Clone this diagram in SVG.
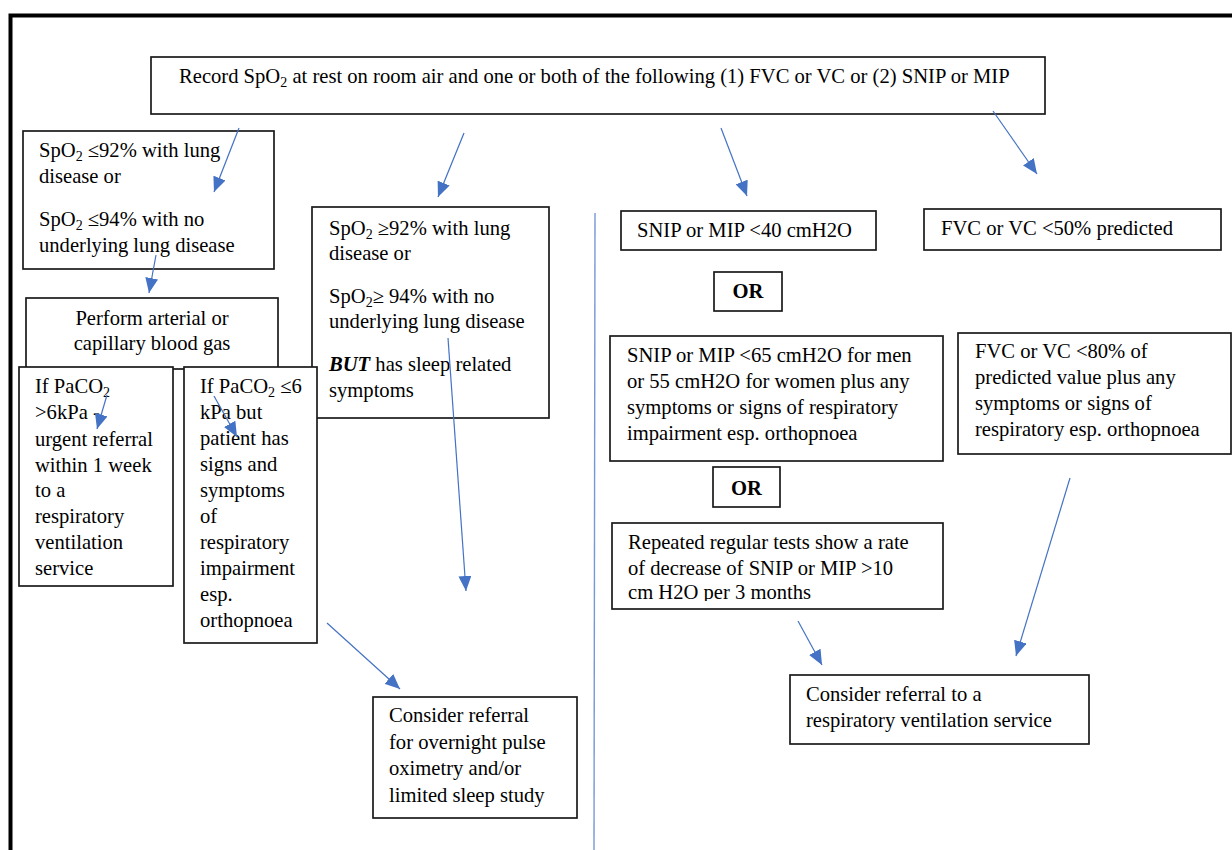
<svg xmlns="http://www.w3.org/2000/svg" width="1232" height="850" viewBox="0 0 1232 850">
<style>
  .box { fill: #ffffff; stroke: #1a1a1a; stroke-width: 1.7; }
  .t { font-family: "Liberation Serif", "Times New Roman", serif; font-size: 20.6px; fill: #000000; }
  .b { font-weight: bold; }
  .con { stroke: #4472C4; stroke-width: 1.2; fill: none; marker-end: url(#ah); }
  .div { stroke: #7598d6; stroke-width: 1.4; fill: none; }
</style>
<defs>
  <marker id="ah" markerUnits="userSpaceOnUse" markerWidth="15" markerHeight="13" refX="15" refY="6.5" orient="auto">
    <path d="M0,0 L15,6.5 L0,13 z" fill="#4472C4"/>
  </marker>
  <clipPath id="clipRep"><rect x="612" y="523" width="331" height="78"/></clipPath>
</defs>
<rect x="0" y="0" width="1232" height="850" fill="#ffffff"/>
<path d="M10.5 852 V15.5 H1234" fill="none" stroke="#000000" stroke-width="4"/>

<g id="node-top">
  <rect class="box" x="151" y="57" width="894" height="57"/>
  <text class="t" x="179" y="83">Record SpO<tspan font-size="14" dy="4">2</tspan><tspan dy="-4"> at rest on room air and one or both of the following (1) FVC or VC or (2) SNIP or MIP</tspan></text>
</g>

<g id="node-low-spo2">
  <rect class="box" x="23" y="131" width="251" height="138"/>
  <text class="t" x="39" y="157">SpO<tspan font-size="14" dy="4">2</tspan><tspan dy="-4"> ≤92% with lung</tspan></text>
  <text class="t" x="39" y="183">disease or</text>
  <text class="t" x="39" y="226">SpO<tspan font-size="14" dy="4">2</tspan><tspan dy="-4"> ≤94% with no</tspan></text>
  <text class="t" x="39" y="252">underlying lung disease</text>
</g>

<g id="node-blood-gas">
  <rect class="box" x="26" y="298" width="252" height="71"/>
  <text class="t" x="152" y="325" text-anchor="middle">Perform arterial or</text>
  <text class="t" x="152" y="350" text-anchor="middle">capillary blood gas</text>
</g>

<g id="node-high-spo2">
  <rect class="box" x="312" y="207" width="237" height="211"/>
  <text class="t" x="329" y="235">SpO<tspan font-size="14" dy="4">2</tspan><tspan dy="-4"> ≥92% with lung</tspan></text>
  <text class="t" x="329" y="260">disease or</text>
  <text class="t" x="329" y="303">SpO<tspan font-size="14" dy="4">2</tspan><tspan dy="-4">≥ 94% with no</tspan></text>
  <text class="t" x="329" y="328">underlying lung disease</text>
  <text class="t" x="329" y="371"><tspan font-weight="bold" font-style="italic">BUT</tspan> has sleep related</text>
  <text class="t" x="329" y="397">symptoms</text>
</g>

<g id="node-paco2-high">
  <rect class="box" x="19" y="367" width="154" height="219"/>
  <text class="t" x="35" y="393">If PaCO<tspan font-size="14" dy="4">2</tspan></text>
  <text class="t" x="35" y="419">&gt;6kPa -</text>
  <text class="t" x="35" y="446">urgent referral</text>
  <text class="t" x="35" y="472">within 1 week</text>
  <text class="t" x="35" y="497">to a</text>
  <text class="t" x="35" y="523">respiratory</text>
  <text class="t" x="35" y="549">ventilation</text>
  <text class="t" x="35" y="575">service</text>
</g>

<g id="node-paco2-low">
  <rect class="box" x="184" y="367" width="133" height="276"/>
  <text class="t" x="200" y="393">If PaCO<tspan font-size="14" dy="4">2</tspan><tspan dy="-4"> ≤6</tspan></text>
  <text class="t" x="200" y="419">kPa but</text>
  <text class="t" x="200" y="445">patient has</text>
  <text class="t" x="200" y="471">signs and</text>
  <text class="t" x="200" y="497">symptoms</text>
  <text class="t" x="200" y="523">of</text>
  <text class="t" x="200" y="549">respiratory</text>
  <text class="t" x="200" y="575">impairment</text>
  <text class="t" x="200" y="601">esp.</text>
  <text class="t" x="200" y="627">orthopnoea</text>
</g>

<g id="node-sleep-study">
  <rect class="box" x="373" y="697" width="204" height="121"/>
  <text class="t" x="389" y="722">Consider referral</text>
  <text class="t" x="389" y="749">for overnight pulse</text>
  <text class="t" x="389" y="775">oximetry and/or</text>
  <text class="t" x="389" y="802">limited sleep study</text>
</g>

<g id="node-snip40">
  <rect class="box" x="621" y="211" width="255" height="39"/>
  <text class="t" x="637" y="237">SNIP or MIP &lt;40 cmH2O</text>
</g>

<g id="node-fvc50">
  <rect class="box" x="924" y="209" width="297" height="41"/>
  <text class="t" x="941" y="235">FVC or VC &lt;50% predicted</text>
</g>

<g id="node-or1">
  <rect class="box" x="714" y="272" width="68" height="39"/>
  <text class="t b" x="748" y="298" text-anchor="middle">OR</text>
</g>

<g id="node-snip65">
  <rect class="box" x="610" y="336" width="333" height="125"/>
  <text class="t" x="627" y="362">SNIP or MIP &lt;65 cmH2O for men</text>
  <text class="t" x="627" y="388">or 55 cmH2O for women plus any</text>
  <text class="t" x="627" y="414">symptoms or signs of respiratory</text>
  <text class="t" x="627" y="440">impairment esp. orthopnoea</text>
</g>

<g id="node-fvc80">
  <rect class="box" x="958" y="333" width="273" height="121"/>
  <text class="t" x="975" y="358">FVC or VC &lt;80% of</text>
  <text class="t" x="975" y="384">predicted value plus any</text>
  <text class="t" x="975" y="410">symptoms or signs of</text>
  <text class="t" x="975" y="436">respiratory esp. orthopnoea</text>
</g>

<g id="node-or2">
  <rect class="box" x="713" y="467" width="67" height="40"/>
  <text class="t b" x="746.5" y="495" text-anchor="middle">OR</text>
</g>

<g id="node-repeated">
  <rect class="box" x="612" y="523" width="331" height="86"/>
  <g clip-path="url(#clipRep)">
    <text class="t" x="628" y="549">Repeated regular tests show a rate</text>
    <text class="t" x="628" y="575">of decrease of SNIP or MIP &gt;10</text>
    <text class="t" x="628" y="599">cm H2O per 3 months</text>
  </g>
</g>

<g id="node-ventilation">
  <rect class="box" x="790" y="675" width="299" height="69"/>
  <text class="t" x="806" y="701">Consider referral to a</text>
  <text class="t" x="806" y="727">respiratory ventilation service</text>
</g>

<g id="connectors">
  <line class="div" x1="595" y1="213" x2="594" y2="850"/>
  <line class="con" x1="239" y1="128" x2="214" y2="192"/>
  <line class="con" x1="464" y1="133" x2="438" y2="197"/>
  <line class="con" x1="721" y1="128" x2="747" y2="196"/>
  <line class="con" x1="993" y1="111" x2="1037" y2="174"/>
  <line class="con" x1="156" y1="255" x2="149" y2="293"/>
  <line class="con" x1="107" y1="395" x2="97" y2="429"/>
  <line class="con" x1="214" y1="396" x2="237" y2="437"/>
  <line class="con" x1="448" y1="338" x2="466" y2="591"/>
  <line class="con" x1="327" y1="623" x2="400" y2="689"/>
  <line class="con" x1="798" y1="621" x2="822" y2="665"/>
  <line class="con" x1="1070" y1="478" x2="1016" y2="656"/>
</g>
</svg>
